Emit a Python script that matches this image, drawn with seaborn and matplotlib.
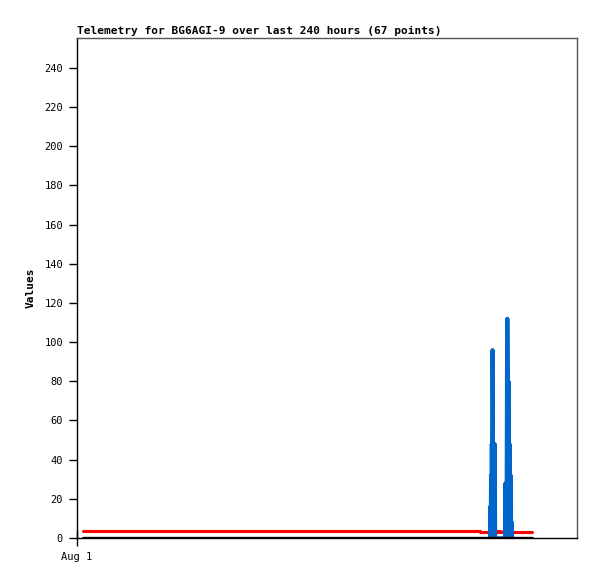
import numpy as np
import pandas as pd
import matplotlib
matplotlib.use('Agg')
import matplotlib.pyplot as plt
import seaborn as sns

# hours since Aug 1 00:00
blue_hours = [220.3, 220.5, 220.7, 220.9, 221.1, 221.3, 221.5, 221.7, 221.9, 222.1, 222.3, 222.5, 222.7,
              222.9, 223.1, 223.3, 223.5, 223.7,
              228.4, 228.6, 228.8, 229.0, 229.2, 229.4, 229.6, 229.8, 230.0, 230.2, 230.4, 230.6,
              230.8, 231.0, 231.2, 231.4, 231.6, 231.8, 232.0, 232.2, 232.4, 232.6]
blue_values = [0, 16, 0, 32, 0, 48, 0, 96, 48, 96, 0, 48, 0,
               48, 0, 48, 0, 0,
               0, 28, 0, 28, 0, 84, 112, 0, 112, 80, 0, 80,
               48, 0, 48, 32, 0, 32, 8, 0, 8, 0]

red_hours = [3.2, 215.0, 222.5, 223.5, 225.0, 226.0, 227.5, 229.0, 243.2]
red_values = [3.8, 2.9, 3.8, 2.9, 3.8, 2.9, 3.8, 2.9, 2.9]

black_hours = [3.2, 243.2]
black_values = [0, 0]

y_ticks = list(range(0, 241, 20))
x_tick_labels = ['Aug 1']

sns.set_style('white')
plt.rcParams['font.family'] = ['DejaVu Sans Mono']
plt.rcParams['text.color'] = 'black'
plt.rcParams['axes.labelcolor'] = 'black'
plt.rcParams['xtick.color'] = 'black'
plt.rcParams['ytick.color'] = 'black'

fig = plt.figure(figsize=(5.97, 5.79), dpi=100)
ax = fig.add_axes([77 / 597, 41 / 579, 500 / 597, 500 / 579])

blue = pd.DataFrame({'h': blue_hours, 'v': blue_values})
red = pd.DataFrame({'h': red_hours, 'v': red_values})
black = pd.DataFrame({'h': black_hours, 'v': black_values})

# red under blue, black baseline on top
sns.lineplot(data=red, x='h', y='v', color='#ff0000', linewidth=2.2, drawstyle='steps-post', ax=ax)
sns.lineplot(data=blue, x='h', y='v', color='#0066cc', linewidth=2.4, sort=False, ax=ax)
sns.lineplot(data=black, x='h', y='v', color='#000000', linewidth=2.4, ax=ax)

ax.set_xlim(0, 267)
ax.set_ylim(0, 255.3)
ax.set_yticks(y_ticks)
ax.set_yticklabels([str(t) for t in y_ticks], fontsize=7.5)
ax.set_xticks([0])
ax.set_xticklabels(x_tick_labels, fontsize=7.5)
ax.tick_params(axis='both', left=True, bottom=True, direction='out', length=6, width=1,
               color='black', labelcolor='black', pad=4)
ax.tick_params(axis='x', direction='inout', length=12)
for s in ax.spines.values():
    s.set_color('black')
    s.set_linewidth(1)
ax.spines['right'].set_color('#555555')
ax.spines['top'].set_color('#555555')

ax.set_xlabel('')
ax.set_ylabel('Values', fontsize=8, fontweight='bold', labelpad=6)
ax.set_title('Telemetry for BG6AGI-9 over last 240 hours (67 points)', loc='left',
             fontsize=8, fontweight='bold', pad=3)

plt.savefig('out.png', dpi=100)
